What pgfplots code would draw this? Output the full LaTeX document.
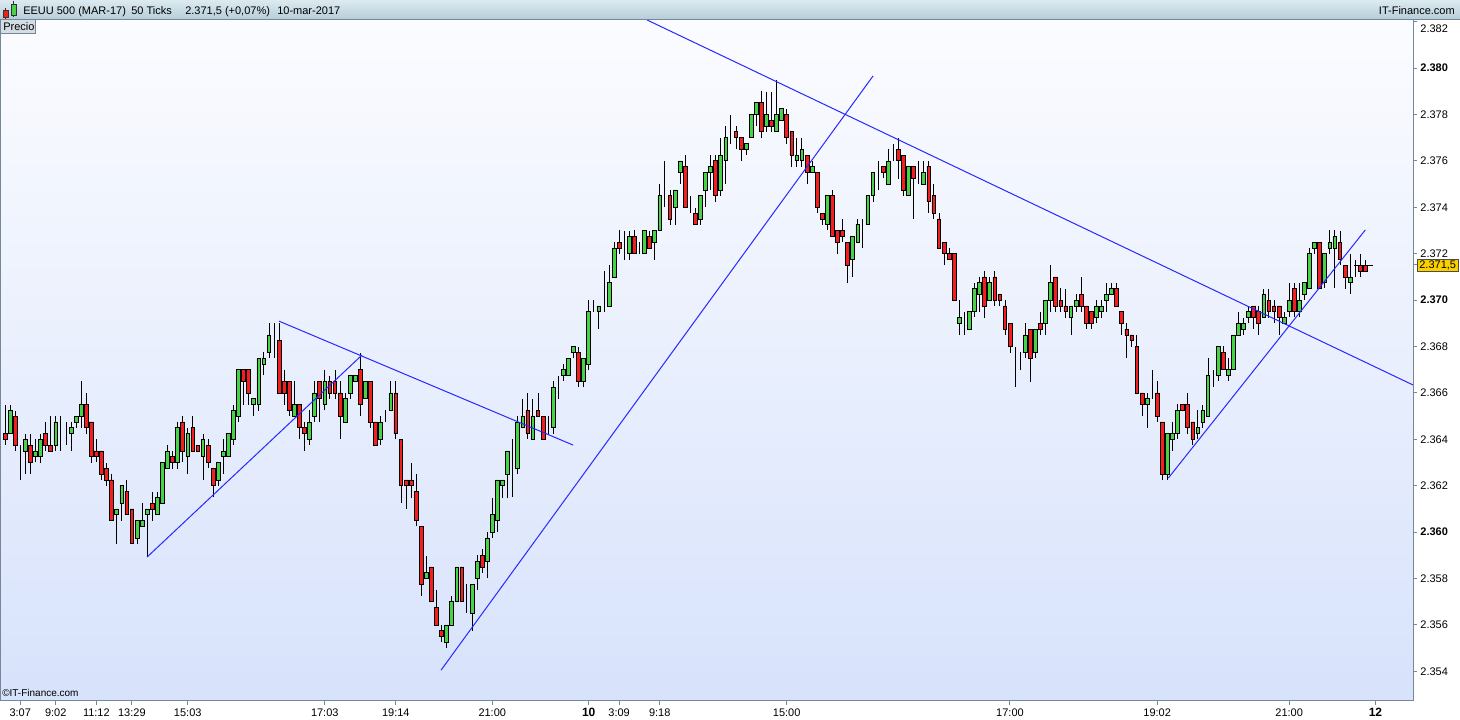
\documentclass[border=0pt]{standalone}
\usepackage{fontspec}
\setmainfont{Liberation Sans}
\usepackage{pgfplots}
\usepackage{pgfplotstable}
\pgfplotsset{compat=1.18}
\definecolor{cred}{RGB}{245,30,30}
\definecolor{cgreen}{RGB}{72,210,72}
\definecolor{trend}{RGB}{40,40,255}
\definecolor{bgtop}{RGB}{251,252,255}
\definecolor{bgbot}{RGB}{215,226,251}
\definecolor{hdrtop}{RGB}{220,234,240}
\definecolor{hdrbot}{RGB}{182,206,218}
\definecolor{axgray}{RGB}{118,136,152}
\definecolor{tagyellow}{RGB}{250,208,0}
\definecolor{precio}{RGB}{212,220,228}
\newcommand\tk{\fontsize{8.25}{9.5}\selectfont}
\pgfplotsset{samebox/.style={at={(0pt,14.25pt)}, anchor=south west,
  scale only axis, width=1059.75pt, height=510.75pt,
  xmin=-0.985, xmax=277.4, ymin=2352.72, ymax=2382.07}}
\pgfplotstableread{
O H L C
2364.25 2365.5 2363.75 2364.0
2364.25 2365.5 2364.25 2365.25
2365.0 2365.25 2363.5 2363.75
2363.5 2363.75 2362.25 2363.5
2363.5 2364.25 2362.5 2364.0
2363.75 2364.25 2362.5 2363.0
2363.25 2364.0 2363.0 2363.5
2363.25 2364.25 2363.0 2364.0
2364.25 2364.75 2363.5 2363.75
2363.75 2365.0 2363.5 2363.5
2363.75 2365.0 2363.5 2364.75
2364.5 2365.0 2363.5 2364.5
2364.5 2364.75 2363.75 2364.5
2364.25 2364.75 2363.5 2364.5
2364.75 2365.0 2364.5 2365.0
2365.0 2366.5 2364.5 2365.5
2365.5 2366.0 2364.25 2364.5
2364.75 2364.75 2363.0 2363.25
2363.5 2364.0 2363.0 2363.25
2363.5 2363.5 2362.25 2362.5
2362.75 2363.0 2362.0 2362.25
2362.25 2362.5 2360.5 2360.5
2360.75 2361.0 2359.5 2361.0
2361.25 2362.0 2360.5 2362.0
2361.75 2362.25 2360.75 2360.75
2361.0 2361.0 2359.5 2359.5
2359.75 2360.5 2359.5 2360.5
2360.25 2361.25 2360.25 2360.5
2360.75 2361.0 2359.0 2361.0
2361.25 2361.75 2360.5 2361.0
2360.75 2361.75 2360.75 2361.5
2361.25 2363.0 2361.25 2363.0
2362.75 2363.75 2362.75 2363.5
2363.25 2363.5 2362.75 2363.0
2363.0 2364.75 2362.75 2364.5
2364.75 2365.0 2363.0 2363.5
2363.25 2364.5 2362.5 2364.25
2364.5 2365.0 2363.5 2363.5
2363.75 2363.75 2363.5 2363.5
2363.25 2364.25 2362.25 2364.0
2363.75 2364.0 2362.75 2363.0
2362.75 2362.75 2361.5 2362.0
2362.25 2363.0 2362.0 2363.0
2363.25 2364.0 2362.5 2363.5
2363.25 2364.25 2363.25 2364.25
2364.0 2365.5 2363.75 2365.25
2365.0 2367.0 2364.75 2367.0
2367.0 2367.0 2365.5 2366.5
2367.0 2367.0 2365.5 2366.0
2365.5 2365.75 2365.0 2365.75
2365.5 2367.5 2365.25 2367.5
2367.25 2367.75 2366.75 2367.5
2367.75 2369.0 2367.5 2368.5
2368.0 2369.0 2367.5 2368.0
2368.25 2369.0 2366.0 2366.0
2366.5 2367.0 2365.5 2366.0
2366.5 2366.5 2365.0 2365.25
2365.0 2366.5 2365.0 2365.5
2365.5 2365.5 2364.0 2364.5
2364.5 2364.75 2363.5 2364.25
2364.0 2365.25 2363.75 2364.75
2365.0 2366.5 2364.75 2366.0
2366.5 2366.5 2364.75 2365.75
2365.5 2367.0 2365.25 2366.5
2366.5 2366.75 2365.75 2366.0
2366.5 2367.0 2365.75 2366.0
2366.0 2366.5 2364.0 2365.0
2364.75 2366.0 2364.75 2365.75
2366.0 2366.75 2365.75 2366.75
2366.5 2366.75 2366.5 2366.75
2367.0 2367.75 2365.0 2365.5
2365.75 2366.5 2365.75 2366.5
2366.5 2366.5 2364.5 2364.75
2364.75 2364.75 2363.75 2363.75
2364.0 2365.0 2363.75 2364.75
2365.0 2365.25 2364.75 2365.0
2365.25 2366.5 2365.25 2366.0
2366.0 2366.5 2364.0 2364.25
2364.0 2364.0 2361.25 2362.0
2362.25 2362.25 2361.0 2362.0
2362.25 2363.0 2361.5 2362.0
2361.75 2362.5 2360.25 2360.5
2360.25 2360.25 2357.25 2357.75
2358.0 2359.0 2358.0 2358.25
2358.5 2358.5 2357.0 2357.0
2356.75 2357.5 2356.0 2356.0
2355.75 2356.0 2355.25 2355.5
2355.25 2356.0 2355.0 2356.0
2356.0 2357.25 2356.0 2357.0
2357.0 2358.5 2357.0 2358.5
2358.5 2358.5 2357.0 2357.0
2356.75 2357.75 2356.5 2356.75
2356.5 2357.75 2355.75 2357.75
2358.0 2359.0 2357.5 2358.75
2359.0 2359.25 2358.25 2358.5
2358.75 2360.0 2358.0 2359.75
2360.0 2361.5 2359.75 2360.75
2360.5 2362.25 2360.0 2362.25
2362.0 2362.25 2361.5 2362.25
2362.5 2363.5 2361.5 2363.5
2363.0 2364.0 2361.5 2363.0
2362.75 2365.0 2362.5 2364.75
2364.5 2365.75 2364.5 2365.0
2365.25 2366.0 2364.0 2364.25
2364.0 2365.75 2364.0 2365.0
2365.25 2366.0 2365.0 2365.0
2365.0 2365.0 2364.0 2364.0
2364.25 2365.0 2364.25 2364.25
2364.5 2366.5 2364.25 2366.25
2366.5 2366.75 2365.75 2366.5
2366.75 2367.25 2366.5 2367.0
2366.75 2367.5 2366.75 2367.5
2367.75 2368.0 2367.5 2368.0
2367.75 2368.0 2366.25 2366.5
2366.5 2367.5 2366.25 2367.5
2367.25 2370.0 2367.0 2369.5
2369.75 2370.0 2369.5 2369.75
2369.5 2369.75 2368.75 2369.75
2370.0 2371.25 2369.5 2370.0
2369.75 2371.5 2369.75 2370.75
2371.0 2372.5 2371.0 2372.25
2372.5 2373.0 2372.0 2372.25
2372.0 2373.0 2371.75 2372.0
2372.0 2373.0 2371.75 2372.75
2372.75 2373.0 2372.0 2372.0
2372.25 2372.5 2372.0 2372.25
2372.0 2373.0 2372.0 2373.0
2372.75 2373.0 2372.25 2372.25
2372.5 2373.0 2371.75 2373.0
2373.0 2375.0 2373.0 2374.5
2374.0 2376.0 2374.0 2374.0
2374.5 2374.75 2373.25 2373.5
2374.0 2374.75 2373.25 2374.75
2375.5 2376.0 2375.0 2376.0
2375.75 2376.25 2374.0 2374.0
2373.75 2374.5 2373.75 2373.75
2373.75 2374.0 2373.25 2373.25
2373.5 2374.5 2373.25 2374.5
2374.75 2375.5 2374.0 2375.5
2375.5 2376.25 2374.75 2375.75
2376.0 2376.25 2374.25 2374.5
2374.75 2377.0 2374.5 2376.25
2376.0 2377.5 2375.0 2377.0
2377.0 2378.0 2376.75 2377.0
2377.25 2377.5 2376.5 2377.0
2377.0 2377.0 2376.0 2376.5
2376.5 2376.75 2376.25 2376.75
2377.0 2378.0 2377.0 2378.0
2378.0 2378.5 2377.5 2378.5
2378.5 2379.0 2377.0 2377.25
2377.5 2379.0 2377.25 2378.0
2377.75 2379.0 2377.25 2377.5
2377.25 2379.5 2377.25 2378.0
2377.75 2378.25 2377.75 2378.25
2378.0 2378.25 2376.75 2377.0
2377.25 2377.25 2375.75 2376.25
2376.0 2377.0 2375.75 2376.25
2376.0 2377.0 2375.75 2376.5
2376.25 2376.25 2375.0 2375.5
2375.5 2376.0 2375.5 2375.75
2375.5 2375.5 2373.75 2374.0
2373.75 2373.75 2373.25 2373.5
2373.25 2374.5 2373.0 2374.5
2374.5 2374.75 2372.75 2372.75
2373.0 2373.0 2372.0 2372.5
2373.0 2373.5 2372.5 2372.75
2372.5 2372.5 2370.75 2371.5
2371.75 2372.75 2371.0 2372.75
2372.5 2373.5 2372.5 2373.25
2373.0 2373.5 2372.25 2373.0
2373.25 2374.5 2373.25 2374.5
2374.5 2375.5 2374.25 2375.5
2375.5 2376.0 2374.75 2375.5
2375.75 2375.75 2375.25 2375.5
2375.0 2376.5 2375.0 2376.0
2376.25 2376.75 2376.0 2376.25
2376.5 2377.0 2375.25 2376.0
2376.25 2376.25 2374.5 2374.75
2374.5 2375.75 2374.5 2375.75
2375.75 2375.75 2373.5 2375.25
2375.0 2376.0 2375.0 2375.0
2375.0 2376.0 2375.0 2375.5
2375.75 2376.0 2373.75 2374.25
2374.5 2375.0 2373.5 2373.75
2373.5 2373.75 2372.25 2372.25
2372.5 2372.5 2371.5 2372.0
2372.0 2372.25 2371.75 2371.75
2372.0 2372.0 2370.0 2370.0
2369.0 2370.0 2368.5 2369.25
2369.0 2369.5 2368.5 2369.0
2368.75 2369.5 2368.75 2369.5
2369.5 2370.75 2369.25 2370.5
2370.25 2371.0 2369.5 2370.75
2371.0 2371.25 2369.25 2369.75
2370.0 2371.0 2370.0 2370.75
2371.0 2371.25 2369.75 2370.0
2370.25 2370.25 2369.75 2370.0
2369.75 2370.0 2368.5 2368.75
2369.0 2369.0 2367.75 2368.0
2368.0 2368.0 2366.25 2368.0
2367.5 2367.75 2367.0 2367.5
2367.75 2369.0 2367.5 2368.5
2368.75 2368.75 2366.5 2367.5
2367.75 2368.75 2367.5 2368.75
2369.0 2369.5 2368.5 2368.75
2369.0 2370.0 2368.5 2370.0
2370.0 2371.5 2369.5 2370.75
2371.0 2371.0 2369.5 2369.75
2370.0 2370.5 2369.5 2369.75
2369.75 2370.5 2369.25 2369.5
2369.25 2369.75 2368.5 2369.75
2369.75 2370.25 2369.5 2370.0
2370.25 2371.0 2369.5 2369.75
2369.75 2369.75 2368.75 2369.0
2369.5 2369.5 2368.75 2369.0
2369.25 2370.0 2369.0 2369.75
2369.5 2370.0 2369.25 2369.75
2370.0 2370.75 2369.5 2370.25
2370.25 2370.75 2370.25 2370.5
2370.5 2370.75 2369.75 2369.75
2369.5 2369.5 2368.5 2369.0
2368.75 2369.0 2367.5 2368.5
2368.5 2368.5 2368.0 2368.25
2368.0 2368.5 2366.0 2366.0
2366.0 2366.0 2365.0 2365.5
2365.5 2366.0 2364.5 2365.75
2366.0 2367.0 2365.75 2366.0
2366.0 2366.5 2364.75 2365.0
2364.75 2364.75 2362.25 2362.5
2362.5 2364.25 2362.25 2364.25
2364.0 2364.75 2363.5 2364.25
2364.25 2365.5 2364.0 2365.25
2365.5 2365.5 2365.25 2365.25
2365.5 2366.0 2364.25 2364.5
2364.75 2364.75 2363.75 2364.0
2364.25 2365.25 2364.0 2364.5
2364.75 2365.5 2364.5 2365.25
2365.0 2367.5 2365.0 2366.75
2366.5 2367.0 2366.25 2366.5
2366.75 2368.0 2366.5 2368.0
2367.75 2368.0 2367.0 2367.0
2366.75 2367.5 2366.5 2367.0
2367.0 2368.5 2367.0 2368.5
2368.5 2369.5 2368.5 2369.0
2368.75 2369.25 2368.5 2369.0
2369.25 2369.75 2369.0 2369.5
2369.75 2369.75 2368.75 2369.25
2369.5 2369.75 2368.5 2369.0
2369.25 2370.5 2369.25 2370.25
2370.0 2370.5 2369.25 2369.5
2369.75 2370.0 2369.0 2369.5
2369.75 2369.75 2368.5 2369.25
2369.0 2369.5 2369.0 2369.25
2369.5 2370.75 2369.25 2370.0
2370.5 2370.75 2369.25 2369.5
2369.5 2370.75 2369.25 2370.0
2370.25 2370.75 2370.0 2370.75
2370.5 2372.25 2370.5 2372.0
2372.25 2372.5 2372.0 2372.5
2372.5 2372.5 2370.5 2370.5
2370.75 2372.0 2370.5 2372.0
2372.25 2373.0 2372.0 2372.5
2372.25 2373.0 2370.5 2372.75
2372.5 2373.0 2371.5 2371.75
2371.5 2371.5 2370.5 2371.0
2370.75 2372.0 2370.25 2371.0
2371.25 2371.75 2371.0 2371.25
2371.5 2372.0 2371.0 2371.25
2371.5 2371.75 2371.25 2371.25
}\candles
\begin{document}
\begin{tikzpicture}
\useasboundingbox (0,0) rectangle (1095pt,540pt);
% axis 1: frame, ticks, background and wicks
\begin{axis}[samebox,
  axis background/.style={top color=bgtop, bottom color=bgbot},
  axis line style={draw=axgray, line width=0.75pt},
  tick align=outside, major tick length=3pt,
  tick style={draw=axgray, line width=0.75pt},
  xtick pos=left, ytick pos=right, yticklabel pos=right,
  xtick={3,10,18,25,36,63,77,96,115,121,129,154,198,227,253,270},
  xticklabels={3:07,9:02,11:12,13:29,15:03,17:03,19:14,21:00,{\fontsize{9}{10}\selectfont\bfseries 10},3:09,9:18,15:00,17:00,19:02,21:00,{\fontsize{9}{10}\selectfont\bfseries 12}},
  ytick={2354,2356,2358,2360,2362,2364,2366,2368,2370,2372,2374,2376,2378,2380},
  yticklabels={2.354,2.356,2.358,\textbf{2.360},2.362,2.364,2.366,2.368,\textbf{2.370},2.372,2.374,2.376,2.378,\textbf{2.380}},
  extra y ticks={2382}, extra y tick labels={2.382},
  extra y tick style={yticklabel style={yshift=-5pt}},
  ticklabel style={font=\tk, text=black},
  xticklabel style={yshift=1pt},
  yticklabel style={xshift=-1pt},
]
\addplot[draw=none, mark=none,
  error bars/.cd, y dir=both, y explicit, error mark=none,
  error bar style={draw=black, line width=0.6pt}]
  table[x expr=\coordindex, y expr={(\thisrow{H}+\thisrow{L})/2},
        y error expr={(\thisrow{H}-\thisrow{L})/2}] {\candles};
\end{axis}
% axis 2: candle bodies
\begin{axis}[samebox, hide axis, ybar stacked, bar width=0.74]
\addplot[draw=none, fill=none]
  table[x expr=\coordindex, y expr={min(\thisrow{O},\thisrow{C})}] {\candles};
\addplot[fill=cgreen, draw=black, line width=0.5pt]
  table[x expr=\coordindex, y expr={max(\thisrow{C}-\thisrow{O},0)}] {\candles};
\addplot[fill=cred, draw=black, line width=0.5pt]
  table[x expr=\coordindex, y expr={max(\thisrow{O}-\thisrow{C},0)}] {\candles};
\end{axis}
% axis 3: trend lines
\begin{axis}[samebox, hide axis]
\addplot[trend, line width=0.75pt] coordinates {(27.98,2358.92) (70.34,2367.63)};
\addplot[trend, line width=0.75pt] coordinates {(53.99,2369.09) (111.92,2363.75)};
\addplot[trend, line width=0.75pt] coordinates {(85.91,2354.05) (171.03,2379.66)};
\addplot[trend, line width=0.75pt] coordinates {(126.5,2382.07) (277.4,2366.34)};
\addplot[trend, line width=0.75pt] coordinates {(229.2,2362.33) (268.0,2373.02)};
\addplot[black, line width=0.6pt] coordinates {(265.8,2371.5) (269.6,2371.5)};
\end{axis}
\begin{scope}[x=0.75pt,y=-0.75pt,yshift=540pt]
\shade[top color=hdrtop,bottom color=hdrbot] (0,0) rectangle (1460,19);
\draw[axgray,line width=0.75pt] (0,19.4) -- (1460,19.4);
\draw[black!80,line width=0.5pt] (5.5,8) -- (5.5,19);
\draw[black!80,line width=0.5pt,fill=cred] (3,10) rectangle (8,17);
\draw[black!80,line width=0.5pt] (13.5,1) -- (13.5,17);
\draw[black!80,line width=0.5pt,fill=cgreen] (11,4) rectangle (16,15);
\node[anchor=base west,inner sep=0,font=\tk] at (23,14.5) {EEUU 500 (MAR-17)};
\node[anchor=base west,inner sep=0,font=\tk] at (131,14.5) {50 Ticks};
\node[anchor=base west,inner sep=0,font=\tk] at (185,14.5) {2.371,5 (+0,07\%)};
\node[anchor=base west,inner sep=0,font=\tk] at (277,14.5) {10-mar-2017};
\node[anchor=base east,inner sep=0,font=\tk] at (1455,14.5) {IT-Finance.com};
\draw[axgray,fill=precio,line width=0.75pt] (0,20) rectangle (35,34);
\node[anchor=base west,inner sep=0,font=\tk] at (3,31) {Precio};
\node[anchor=base west,inner sep=0,font=\fontsize{7.5}{9}\selectfont] at (2,697) {©IT-Finance.com};
\draw[axgray,line width=0.75pt] (1413,265) -- (1418,265);
\node[anchor=west,fill=tagyellow,draw=black!70,line width=0.5pt,inner xsep=1.5pt,inner ysep=1pt,font=\tk] at (1417,265) {2.371,5};
\end{scope}
\end{tikzpicture}
\end{document}
